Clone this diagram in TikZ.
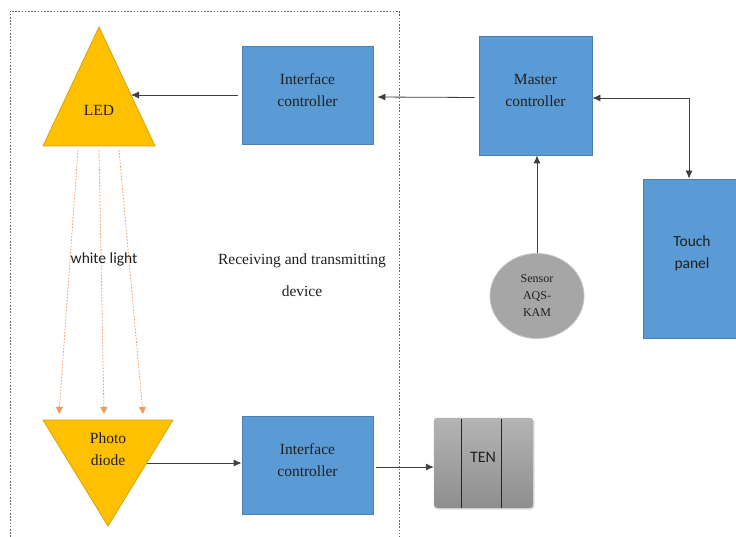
\documentclass[tikz,border=0pt]{standalone}
\usepackage{fontspec}
\setmainfont{Liberation Serif}
\newfontfamily\timesface{Liberation Serif}
\newfontfamily\calibrifont{Carlito}
\usetikzlibrary{arrows.meta,shadows,calc,shapes.geometric}

\definecolor{boxblue}{HTML}{5B9BD5}
\definecolor{boxedge}{HTML}{4A7FB5}
\definecolor{ledgold}{HTML}{FFC000}
\definecolor{goldedge}{HTML}{D9A20B}
\definecolor{beamorange}{HTML}{F19A5E}
\definecolor{sensorgray}{HTML}{A6A6A6}
\definecolor{sensoredge}{HTML}{C4C4C4}
\definecolor{linegray}{HTML}{3F3F3F}
\definecolor{inkdark}{HTML}{1F1F1F}
\definecolor{tentop}{HTML}{B4B4B4}
\definecolor{tenbottom}{HTML}{8E8E8E}

\begin{document}
\begin{tikzpicture}[x=1pt,y=-1pt,
  blockbox/.style={draw=boxedge, fill=boxblue, line width=0.8pt, inner sep=0pt},
  serifbig/.style={align=center, text=inkdark, font=\timesface\fontsize{15.5}{21.5}\selectfont},
  sansbig/.style={align=center, text=inkdark, font=\calibrifont\fontsize{15.5}{22}\selectfont},
  triangleshape/.style={draw=goldedge, fill=ledgold, line width=0.8pt, line join=miter},
  link/.style={draw=linegray, line width=0.8pt, -{Latex[length=8pt,width=7pt]}},
  twoway/.style={draw=linegray, line width=0.8pt, {Latex[length=8pt,width=7pt]}-{Latex[length=8pt,width=7pt]}},
  beam/.style={draw=beamorange, line width=0.8pt, dash pattern=on 1.6pt off 1.6pt,
    -{Triangle[length=7pt,width=7pt]}},
  frame/.style={draw=gray!75!black, line width=0.7pt, dash pattern=on 1.6pt off 1.6pt},
]
\useasboundingbox (0,0) rectangle (736,537);

% dotted enclosure of the receiving and transmitting device (open at the bottom)
\draw[frame] (10,537) -- (10,11) -- (399,11) -- (399,537);

% LED (upright triangle)
\coordinate (ledTop) at (99,27);
\coordinate (ledL) at (43,146);
\coordinate (ledR) at (155,146);
\draw[triangleshape] (ledTop) -- (ledR) -- (ledL) -- cycle;
\node[serifbig] (ledText) at (99,110) {LED};
\coordinate (ledIn) at (131,95);

% photodiode (inverted triangle)
\coordinate (pdL) at (43,420);
\coordinate (pdR) at (173,420);
\coordinate (pdBot) at (108,526);
\draw[triangleshape] (pdL) -- (pdR) -- (pdBot) -- cycle;
\node[serifbig] (pdText) at (108,449) {Photo\\diode};
\coordinate (pdOut) at (147,463);

% light beams
\coordinate (b1s) at (78,150);  \coordinate (b1e) at (59,414);
\coordinate (b2s) at (99,150);  \coordinate (b2e) at (104,414);
\coordinate (b3s) at (119,150); \coordinate (b3e) at (143,414);
\draw[beam] (b1s) -- (b1e);
\draw[beam] (b2s) -- (b2e);
\draw[beam] (b3s) -- (b3e);
\node[sansbig] (wl) at (104,259) {white light};

% device caption
\node[align=center, text=inkdark, font=\timesface\fontsize{15.5}{32}\selectfont] (dev) at (302,275)
  {Receiving and transmitting\\device};

% blue blocks
\node[blockbox, minimum width=131pt, minimum height=98pt] (ifT) at (307.5,95) {};
\node[serifbig, yshift=5pt] (ifTt) at (ifT.center) {Interface\\controller};
\node[blockbox, minimum width=131pt, minimum height=98pt] (ifB) at (307.5,465) {};
\node[serifbig, yshift=5pt] (ifBt) at (ifB.center) {Interface\\controller};
\node[blockbox, minimum width=113pt, minimum height=119pt] (master) at (535.5,95.5) {};
\node[serifbig, yshift=5pt] (mastert) at (master.center) {Master\\controller};
\node[blockbox, minimum width=98pt, minimum height=159pt] (touch) at (692,258.5) {};
\node[sansbig, yshift=5pt] (toucht) at (touch.center) {Touch\\panel};

% sensor
\node[ellipse, draw=sensoredge, fill=sensorgray, line width=0.8pt,
      minimum width=94pt, minimum height=85pt, inner sep=0pt] (sensor) at (537,296) {};
\node[align=center, text=inkdark, font=\timesface\fontsize{12}{17}\selectfont] (sensort) at (sensor.center)
  {Sensor\\AQS-\\KAM};

% TEN block
\node[rounded corners=3pt, top color=tentop, bottom color=tenbottom,
      draw=gray!65, line width=0.3pt,
      drop shadow={shadow xshift=1.5pt, shadow yshift=-1.5pt, opacity=0.25},
      minimum width=99pt, minimum height=90pt, inner sep=0pt] (ten) at (483.5,463) {};
\draw[black!85, line width=0.8pt] (461,419) -- (461,508);
\draw[black!85, line width=0.8pt] (501,419) -- (501,508);
\node[font=\calibrifont\fontsize{16}{18}\selectfont, text=inkdark] (tent) at (483,457) {TEN};

% connectors
\draw[link, shorten <=4pt] (ifT.west) -- (ledIn);
\draw[link, shorten <=4pt, shorten >=4pt] ([yshift=-2pt]master.west) -- ([yshift=-2pt]ifT.east);
\draw[twoway] ([yshift=-2.5pt]master.east) -| ([xshift=-3pt]touch.north);
\draw[link] (sensor.north) -- (sensor.north |- master.south);
\draw[link] (pdOut) -- (pdOut -| ifB.west);
\draw[link, shorten <=3pt] ([yshift=-2pt]ifB.east) -- ([yshift=-2pt]ifB.east -| ten.west);
\end{tikzpicture}
\end{document}
